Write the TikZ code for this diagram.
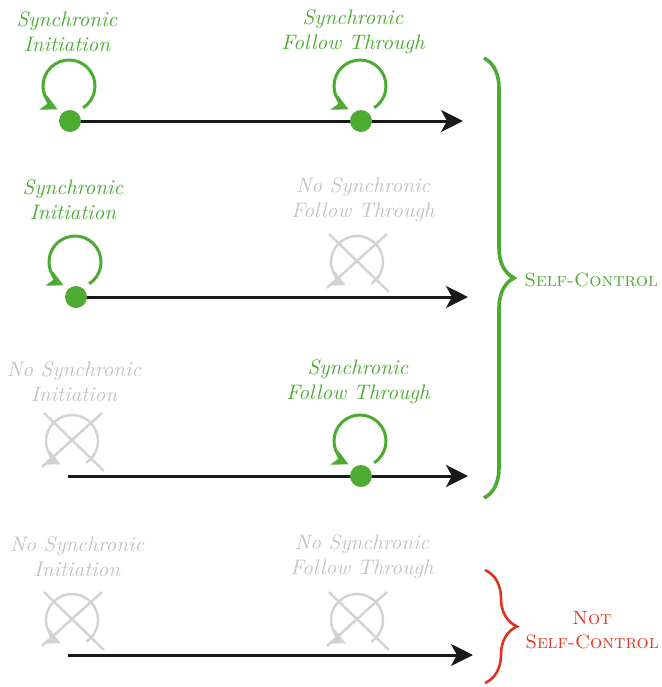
\documentclass[tikz,border=0pt]{standalone}
\usetikzlibrary{arrows.meta,decorations.pathreplacing}
\definecolor{sgreen}{HTML}{4DAA32}
\definecolor{sred}{HTML}{E2341D}
\definecolor{sgrey}{HTML}{D2D2D2}
\definecolor{sgreytext}{HTML}{C4C4C4}
\tikzset{
  lbl/.style={align=center,inner sep=0pt,font=\fontsize{10.5}{12.3}\selectfont\itshape},
  glbl/.style={lbl,text=sgreen},
  nlbl/.style={lbl,text=sgreytext},
  sclbl/.style={inner sep=0pt,align=center,font=\fontsize{9.6}{12}\selectfont\scshape},
  dotst/.style={circle,fill=sgreen,inner sep=0pt,minimum size=11pt},
  mainarrow/.style={line width=1.5pt,black!90,-{Stealth[length=11pt,width=11pt,inset=3pt]}},
  gloopst/.style={line width=1.5pt,sgreen,-{Stealth[length=8pt,width=8pt,inset=2pt]}},
  nloopst/.style={line width=1.2pt,sgrey,-{Stealth[length=8pt,width=8pt,inset=2pt]}},
  ncross/.style={line width=1.2pt,sgrey},
  bracest/.style={decorate,decoration={brace,amplitude=#1}},
}
\newcommand\gloop[1]{\draw[gloopst] (#1) ++(57:26) arc[start angle=57,end angle=-244,radius=26];}
\newcommand\xloop[1]{%
  \draw[nloopst] (#1) ++(57:26) arc[start angle=57,end angle=-244,radius=26];
  \draw[ncross] (#1) ++(-28,-28) -- ++(60,58);
  \draw[ncross] (#1) ++(30,-28) -- ++(-60,54);}
\begin{document}
\begin{tikzpicture}[x=0.5pt,y=-0.5pt]
\useasboundingbox (0,0) rectangle (662,687);
% labels
\node[glbl] (t1) at (67,32) {Synchronic\\Initiation};
\node[glbl] (t2) at (353,32) {Synchronic\\Follow Through};
\node[glbl] (t3) at (73,200) {Synchronic\\Initiation};
\node[nlbl] (t4) at (363,200) {No Synchronic\\Follow Through};
\node[nlbl] (t5) at (74,382) {No Synchronic\\Initiation};
\node[glbl] (t6) at (358,382) {Synchronic\\Follow Through};
\node[nlbl] (t7) at (77,557) {No Synchronic\\Initiation};
\node[nlbl] (t8) at (362,557) {No Synchronic\\Follow Through};
% row 1
\coordinate (s1) at (70,121);
\coordinate (e1) at (463,121);
\draw[mainarrow] (s1) -- (e1);
\node[dotst] (d1) at (s1) {};
\node[dotst] (d2) at (361,121) {};
\coordinate (c1) at (69,86);
\coordinate (c2) at (360,86);
\gloop{c1}
\gloop{c2}
% row 2
\coordinate (s2) at (76,297);
\coordinate (e2) at (468,297);
\draw[mainarrow] (s2) -- (e2);
\node[dotst] (d3) at (s2) {};
\coordinate (c3) at (75,262);
\coordinate (c4) at (357,262);
\gloop{c3}
\xloop{c4}
% row 3
\coordinate (s3) at (68,476);
\coordinate (e3) at (468,476);
\draw[mainarrow] (s3) -- (e3);
\node[dotst] (d4) at (361,476) {};
\coordinate (c5) at (72,441);
\coordinate (c6) at (360,441);
\xloop{c5}
\gloop{c6}
% row 4
\coordinate (s4) at (68,655);
\coordinate (e4) at (473,655);
\draw[mainarrow] (s4) -- (e4);
\coordinate (c7) at (72,620);
\coordinate (c8) at (357,620);
\xloop{c7}
\xloop{c8}
% braces
\coordinate (b1) at (484,58);
\coordinate (b2) at (484,498);
\draw[bracest=15pt,sgreen,line width=1.8pt] (b1) -- (b2);
\node[sclbl,anchor=west,text=sgreen] (sc) at (524,280) {Self-Control};
\coordinate (b3) at (485,570);
\coordinate (b4) at (485,683);
\draw[bracest=16pt,sred,line width=1.3pt] (b3) -- (b4);
\node[sclbl,text=sred] (nsc) at (592,630) {Not\\Self-Control};
\end{tikzpicture}
\end{document}
